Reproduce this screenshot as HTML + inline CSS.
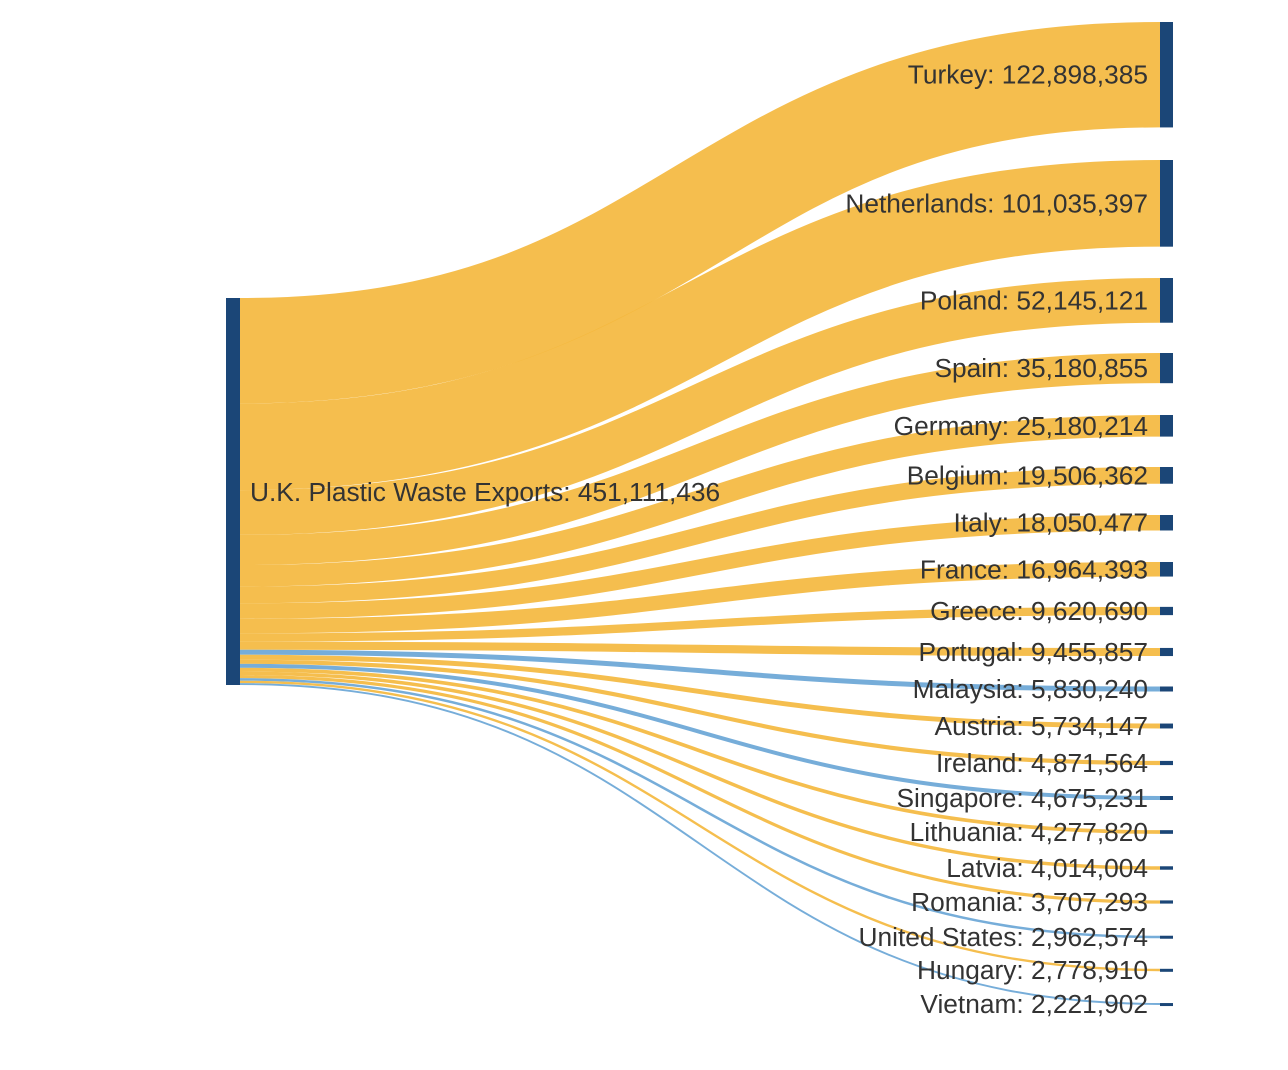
<!DOCTYPE html>
<html><head><meta charset="utf-8"><style>
html,body{margin:0;padding:0;background:#fff;}
svg{display:block;}
text{font-family:"Liberation Sans",Arial,sans-serif;font-size:26.3px;fill:#333;}
</style></head><body>
<svg id="s" width="1288" height="1070" xmlns="http://www.w3.org/2000/svg"></svg>
<script>
var d=[["Turkey",122898385,22,0],["Netherlands",101035397,160,0],["Poland",52145121,278,0],["Spain",35180855,353,0],
["Germany",25180214,415,0],["Belgium",19506362,467,0],["Italy",18050477,515,0],["France",16964393,562,0],
["Greece",9620690,-611,0],["Portugal",9455857,-652,0],["Malaysia",5830240,-689,1],["Austria",5734147,-726,0],
["Ireland",4871564,-763,0],["Singapore",4675231,-798,1],["Lithuania",4277820,-832,0],["Latvia",4014004,-868,0],
["Romania",3707293,-902,0],["United States",2962574,-937,1],["Hungary",2778910,-970,0],["Vietnam",2221902,-1004,1]];
var k=387/451111436,s=document.getElementById("s"),h="",sy=298,x0=240,x1=1160,cx=(x0+x1)/2;
function fmt(n){return n.toString().replace(/\B(?=(\d{3})+(?!\d))/g,",");}
var labels="";
d.forEach(function(r){var w=Math.max(r[1]*k,1.5),t=r[2]<0?(-r[2]-w/2):r[2];
var a=sy+w/2,b=t+w/2;
h+='<path d="M'+x0+','+a+' C'+cx+','+a+' '+cx+','+b+' '+x1+','+b+'" fill="none" stroke="'+(r[3]?'#6aa6d6':'#f4b93f')+'" stroke-opacity="0.92" stroke-width="'+w+'"/>';
labels+='<rect x="1160" y="'+t+'" width="13" height="'+Math.max(w,3)+'" fill="#1b4677"/>';
labels+='<text x="1148" y="'+(t+w/2+9)+'" text-anchor="end">'+r[0]+': '+fmt(r[1])+'</text>';
sy+=w;});
h+='<rect x="226" y="298" width="14" height="387" fill="#1b4677"/>';
h+=labels+'<text x="250" y="501">U.K. Plastic Waste Exports: 451,111,436</text>';
s.innerHTML=h;
</script>
</body></html>
